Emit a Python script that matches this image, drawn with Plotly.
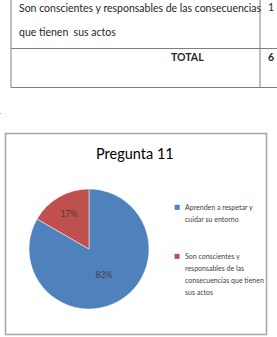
import plotly.graph_objects as go

W, H = 277, 337

# ---- data ----
table_rows = ["Son conscientes y responsables de las consecuencias", "que tienen  sus actos"]
table_count = 1
table_total_label = "TOTAL"
table_total = 6

chart_title = "Pregunta 11"
labels = ["Aprenden a respetar y cuidar su entorno",
          "Son conscientes y responsables de las consecuencias que tienen sus actos"]
legend_lines = [["Aprenden a respetar y", "cuidar su entorno"],
                ["Son conscientes y", "responsables de las", "consecuencias que tienen", "sus actos"]]
values = [5, 1]
colors = ["#4F81BD", "#C0504D"]

FONT = "Lato, sans-serif"


def px(x):
    return x / W


def py(y):
    return 1 - y / H


fig = go.Figure()

# pie
cx, cy, r = 89, 249, 60
fig.add_trace(go.Pie(
    labels=labels, values=values, sort=False, direction="clockwise", rotation=0,
    marker=dict(colors=colors, line=dict(color="white", width=0.5)),
    texttemplate="%{percent:.0%}", textposition="inside", insidetextorientation="horizontal",
    textfont=dict(family=FONT, size=8.5, color="#404040"),
    domain=dict(x=[px(cx - r), px(cx + r)], y=[py(cy + r), py(cy - r)]),
    showlegend=False, hoverinfo="label+percent",
))

shapes = []
tc = "#7F7F7F"
shapes.append(dict(type="line", xref="paper", yref="paper", x0=px(11), x1=px(11), y0=py(-2), y1=py(87.5),
                   line=dict(color=tc, width=1)))
shapes.append(dict(type="line", xref="paper", yref="paper", x0=px(260), x1=px(260), y0=py(-2), y1=py(87.5),
                   line=dict(color=tc, width=1)))
shapes.append(dict(type="line", xref="paper", yref="paper", x0=px(11), x1=px(279), y0=py(48.5), y1=py(48.5),
                   line=dict(color=tc, width=1)))
shapes.append(dict(type="line", xref="paper", yref="paper", x0=px(11), x1=px(279), y0=py(87.5), y1=py(87.5),
                   line=dict(color=tc, width=1)))
shapes.append(dict(type="rect", xref="paper", yref="paper", x0=px(5.5), x1=px(266.5), y0=py(334.5), y1=py(133.5),
                   line=dict(color="#A6A6A6", width=1.5)))

ann = []
tf = dict(family=FONT, size=10.5, color="#262626")
ann.append(dict(text=table_rows[0], x=px(17), y=py(8), xanchor="left", yanchor="middle", font=tf))
ann.append(dict(text=table_rows[1], x=px(17), y=py(32), xanchor="left", yanchor="middle", font=tf))
ann.append(dict(text=str(table_count), x=px(266), y=py(7), xanchor="left", yanchor="middle", font=tf))
ann.append(dict(text="<b>" + table_total_label + "</b>", x=px(206), y=py(57), xanchor="right", yanchor="middle",
                font=tf))
ann.append(dict(text="<b>" + str(table_total) + "</b>", x=px(266), y=py(57), xanchor="left", yanchor="middle",
                font=tf))
ann.append(dict(text="1", x=px(3), y=py(110), xanchor="right", yanchor="middle", font=tf))
# title
ann.append(dict(text=chart_title, x=px(135), y=py(153), xanchor="center", yanchor="middle",
                font=dict(family=FONT, size=14.5, color="#000000")))
# legend
leg_y = [207, 256]
for i, lines in enumerate(legend_lines):
    ann.append(dict(text="■", x=px(181.5), y=py(leg_y[i]), xanchor="right", yanchor="middle",
                    font=dict(family="DejaVu Sans", size=6.5, color=colors[i])))
    for j, ln in enumerate(lines):
        ann.append(dict(text=ln, x=px(182.5), y=py(leg_y[i] + 12 * j), xanchor="left", yanchor="middle",
                        font=dict(family=FONT, size=7, color="#404040")))

for a in ann:
    a.update(xref="paper", yref="paper", showarrow=False)

fig.update_layout(
    width=W, height=H, margin=dict(l=0, r=0, t=0, b=0),
    paper_bgcolor="white", plot_bgcolor="white",
    shapes=shapes, annotations=ann,
    xaxis=dict(visible=False), yaxis=dict(visible=False),
)

fig.write_html("out.html")
